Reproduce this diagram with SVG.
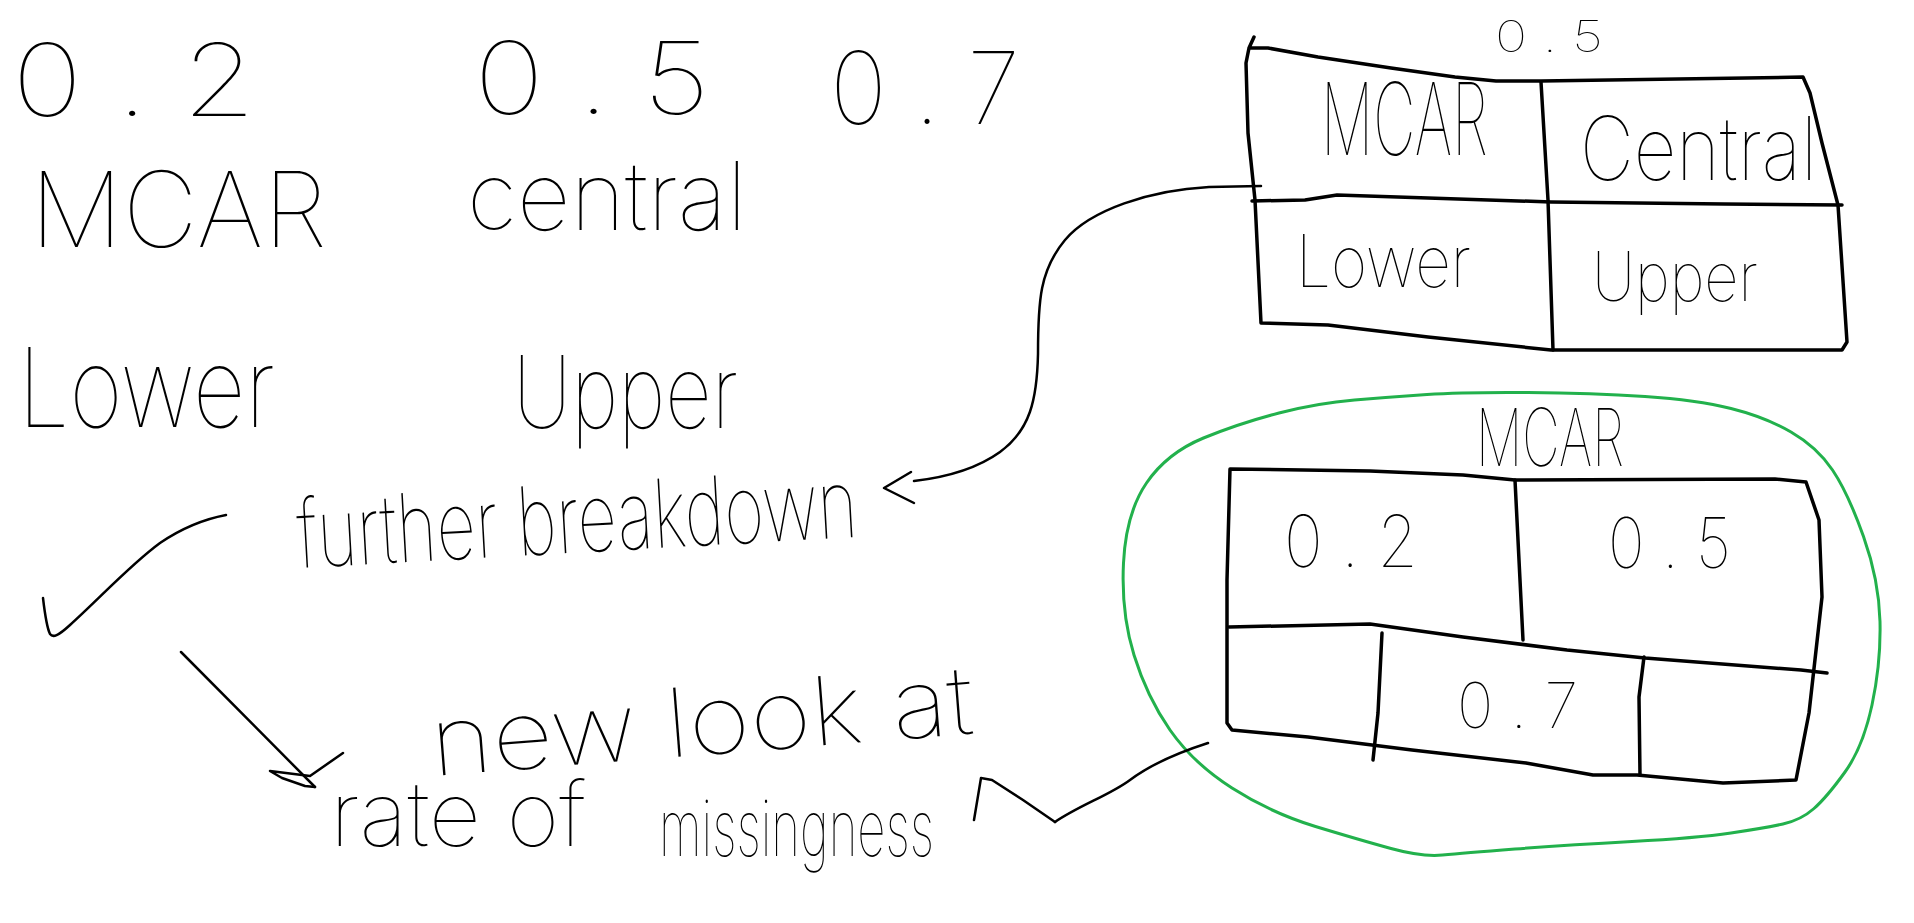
<svg xmlns="http://www.w3.org/2000/svg" width="1914" height="923" viewBox="0 0 1914 923">
<style>
.h{font-family:"Inter","Lato","DejaVu Sans",sans-serif;font-weight:100;fill:#000}
.ln{fill:none;stroke:#000;stroke-width:3.5;stroke-linejoin:round;stroke-linecap:round}
.cn{fill:none;stroke:#000;stroke-width:2.5;stroke-linejoin:round;stroke-linecap:round}
.blob{fill:none;stroke:#22b14c;stroke-width:3;stroke-linejoin:round}
</style>
<rect width="1914" height="923" fill="#fff"/>
<g id="values">
<text class="h" x="12" y="116" font-size="100" textLength="244" lengthAdjust="spacingAndGlyphs">0 . 2</text>
<text class="h" x="474" y="114" font-size="100" textLength="236" lengthAdjust="spacingAndGlyphs">0 . 5</text>
<text class="h" x="830" y="124" font-size="100" textLength="190" lengthAdjust="spacingAndGlyphs">0 . 7</text>
</g>
<g id="categories">
<text class="h" x="30" y="247" font-size="105" textLength="297" lengthAdjust="spacingAndGlyphs">MCAR</text>
<text class="h" x="467" y="230" font-size="95" textLength="280" lengthAdjust="spacingAndGlyphs">central</text>
<text class="h" x="18" y="427" font-size="110" textLength="257" lengthAdjust="spacingAndGlyphs">Lower</text>
<text class="h" x="513" y="428" font-size="100" textLength="225" lengthAdjust="spacingAndGlyphs">Upper</text>
</g>
<g id="check">
<path class="cn" d="M43,598 C45,615 47,628 50,634 C53,638 58,636 70,625 C100,598 130,565 160,543 C185,526 205,519 226,515"/>
</g>
<g id="further-breakdown">
<text class="h" x="299" y="568" font-size="95" textLength="561" lengthAdjust="spacingAndGlyphs" transform="rotate(-3.2 299 568)">further breakdown</text>
</g>
<g id="new-look">
<text class="h" x="433" y="776" font-size="95" textLength="544" lengthAdjust="spacingAndGlyphs" transform="rotate(-4.5 433 776)">new look at</text>
<text class="h" x="330" y="846" font-size="90" textLength="256" lengthAdjust="spacingAndGlyphs">rate of</text>
<text class="h" x="659" y="856" font-size="78" textLength="275" lengthAdjust="spacingAndGlyphs">missingness</text>
</g>
<g id="table-05">
<text class="h" x="1495" y="52" font-size="44" textLength="108" lengthAdjust="spacingAndGlyphs">0 . 5</text>
<path class="ln" d="M1254,37 L1249,48 L1268,48 L1318,57 L1391,68 L1455,77 L1496,81 L1541,81 L1746,78 L1803,77 L1810,93 L1822,143 L1838,205 L1847,342 L1842,350 L1551,350 L1428,337 L1328,325 L1261,323 L1255,200 L1248,133 L1246,63 L1249,48"/>
<path class="ln" d="M1252,201 L1305,200 L1337,195 L1428,198 L1551,202 L1724,204 L1842,205"/>
<path class="ln" d="M1541,82 L1548,200 L1553,350"/>
<text class="h" x="1321" y="155" font-size="100" textLength="167" lengthAdjust="spacingAndGlyphs">MCAR</text>
<text class="h" x="1580" y="180" font-size="88" textLength="237" lengthAdjust="spacingAndGlyphs">Central</text>
<text class="h" x="1296" y="287" font-size="72" textLength="175" lengthAdjust="spacingAndGlyphs">Lower</text>
<text class="h" x="1592" y="301" font-size="68" textLength="166" lengthAdjust="spacingAndGlyphs">Upper</text>
</g>
<g id="mcar-group">
<path class="blob" d="M1427,394.5 Q1463,392 1528,392.5 Q1593,393 1645,396.5 Q1697,400 1731,408.5 Q1765,417 1791,432 Q1817,447 1832.5,470 Q1848,493 1863.5,536.5 Q1879,580 1880,621.5 Q1881,663 1872,705 Q1863,747 1845,772 Q1827,797 1814,808.5 Q1801,820 1783,824 Q1765,828 1731,833 Q1697,838 1632,841.5 Q1567,845 1515,849 Q1463,853 1442.5,855 Q1422,857 1391,848.5 Q1360,840 1315.5,826.5 Q1271,813 1232,788 Q1193,763 1170,730 Q1147,697 1134,655 Q1121,613 1123.5,563 Q1126,513 1146.5,483 Q1167,453 1203.5,438 Q1240,423 1279,413 Q1318,403 1354.5,400 Q1391,397 1427,394.5 Z"/>
<text class="h" x="1476" y="466" font-size="80" textLength="148" lengthAdjust="spacingAndGlyphs">MCAR</text>
<path class="ln" d="M1230,469 L1370,471 L1463,475 L1515,480 L1775,479 L1806,482 L1819,520 L1822,597 L1809,713 L1796,780 L1723,783 L1637,775 L1593,775 L1526,763 L1412,750 L1308,737 L1232,730 L1227,723 L1227,580 L1230,469 Z"/>
<path class="ln" d="M1229,627 L1370,624 L1463,637 L1567,650 L1645,658 L1801,670 L1827,673"/>
<path class="ln" d="M1515,480 L1523,640"/>
<path class="ln" d="M1382,633 L1378,713 L1373,760"/>
<path class="ln" d="M1644,657 L1639,697 L1640,775"/>
<text class="h" x="1284" y="567" font-size="72" textLength="134" lengthAdjust="spacingAndGlyphs">0 . 2</text>
<text class="h" x="1608" y="568" font-size="70" textLength="123" lengthAdjust="spacingAndGlyphs">0 . 5</text>
<text class="h" x="1457" y="728" font-size="63" textLength="121" lengthAdjust="spacingAndGlyphs">0 . 7</text>
</g>
<g id="connectors">
<path class="cn" d="M1261,186 L1209,187 C1150,190 1090,210 1065,240 C1040,270 1038,300 1038,354 C1037,400 1030,430 1000,452 C975,470 940,478 914,481"/>
<path class="cn" d="M911,472 L884,488 L914,503"/>
<path class="cn" d="M181,652 L315,787"/>
<path class="cn" d="M343,753 L310,776 L270,771 L282,778 L305,786 L315,787"/>
<path class="cn" d="M1208,743 C1180,752 1150,765 1130,780 C1110,795 1080,805 1055,822"/>
<path class="cn" d="M974,820 L981,778 L992,780 L1023,800 L1055,822"/>
</g>
</svg>
